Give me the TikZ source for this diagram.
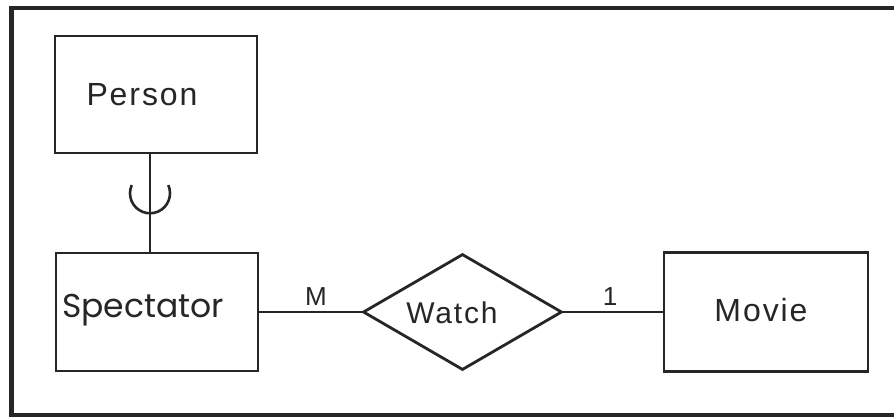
\documentclass[tikz,border=0pt]{standalone}
\usepackage{fontspec}
\setmainfont{Liberation Sans}[LetterSpace=6]
\newfontfamily\geofont{Poppins}
\usetikzlibrary{shapes.geometric,calc}
\definecolor{ink}{HTML}{262626}
\begin{document}
\begin{tikzpicture}[x=1pt,y=-1pt,
  entity/.style={draw=ink, line width=2.6pt, rectangle, inner sep=0pt, minimum width=202pt, minimum height=117pt},
  relation/.style={draw=ink, line width=2.8pt, diamond, inner sep=0pt, minimum width=199pt, minimum height=116pt},
  conn/.style={draw=ink, line width=2.6pt},
  lbl/.style={text=ink, inner sep=0pt, font=\fontsize{32}{36}\selectfont},
  card/.style={text=ink, inner sep=0pt, font=\fontsize{26}{30}\selectfont}]
\useasboundingbox (0,0) rectangle (894,418);
\clip (0,0) rectangle (894,418);
\fill[white] (0,0) rectangle (894,418);
\draw[draw=ink, line width=4.5pt] (11.5,8) rectangle (910,415);

\node[entity] (person) at (156,94.5) {};
\node[entity, minimum height=118pt] (spectator) at (157,312) {};
\node[entity, minimum width=204pt, minimum height=119pt] (movie) at (766,312) {};
\node[relation] (watch) at (462.5,312) {};

\node[lbl] (personlbl) at (142,95) {Person};
\node[lbl, font=\geofont\fontsize{33}{37}\selectfont, anchor=west] (spectatorlbl) at (62,310) {Spectator};
\node[lbl] (movielbl) at (761,310) {Movie};
\node[lbl, font=\fontsize{30}{34}\selectfont] (watchlbl) at (452,313) {Watch};

\coordinate (linex) at (150,0);
\draw[conn] (person.south -| linex) -- (spectator.north -| linex);
\coordinate (subset) at ($(person.south -| linex)!0.4!(spectator.north -| linex)$);
\draw[conn] (subset) ++(-24:20) arc[start angle=-24, end angle=204, radius=20];

\draw[conn] (spectator.east) -- (watch.west);
\draw[conn] (watch.east) -- (movie.west);
\node[card] (mcard) at (316,297) {M};
\node[card] (onecard) at (610,297) {1};
\end{tikzpicture}
\end{document}
